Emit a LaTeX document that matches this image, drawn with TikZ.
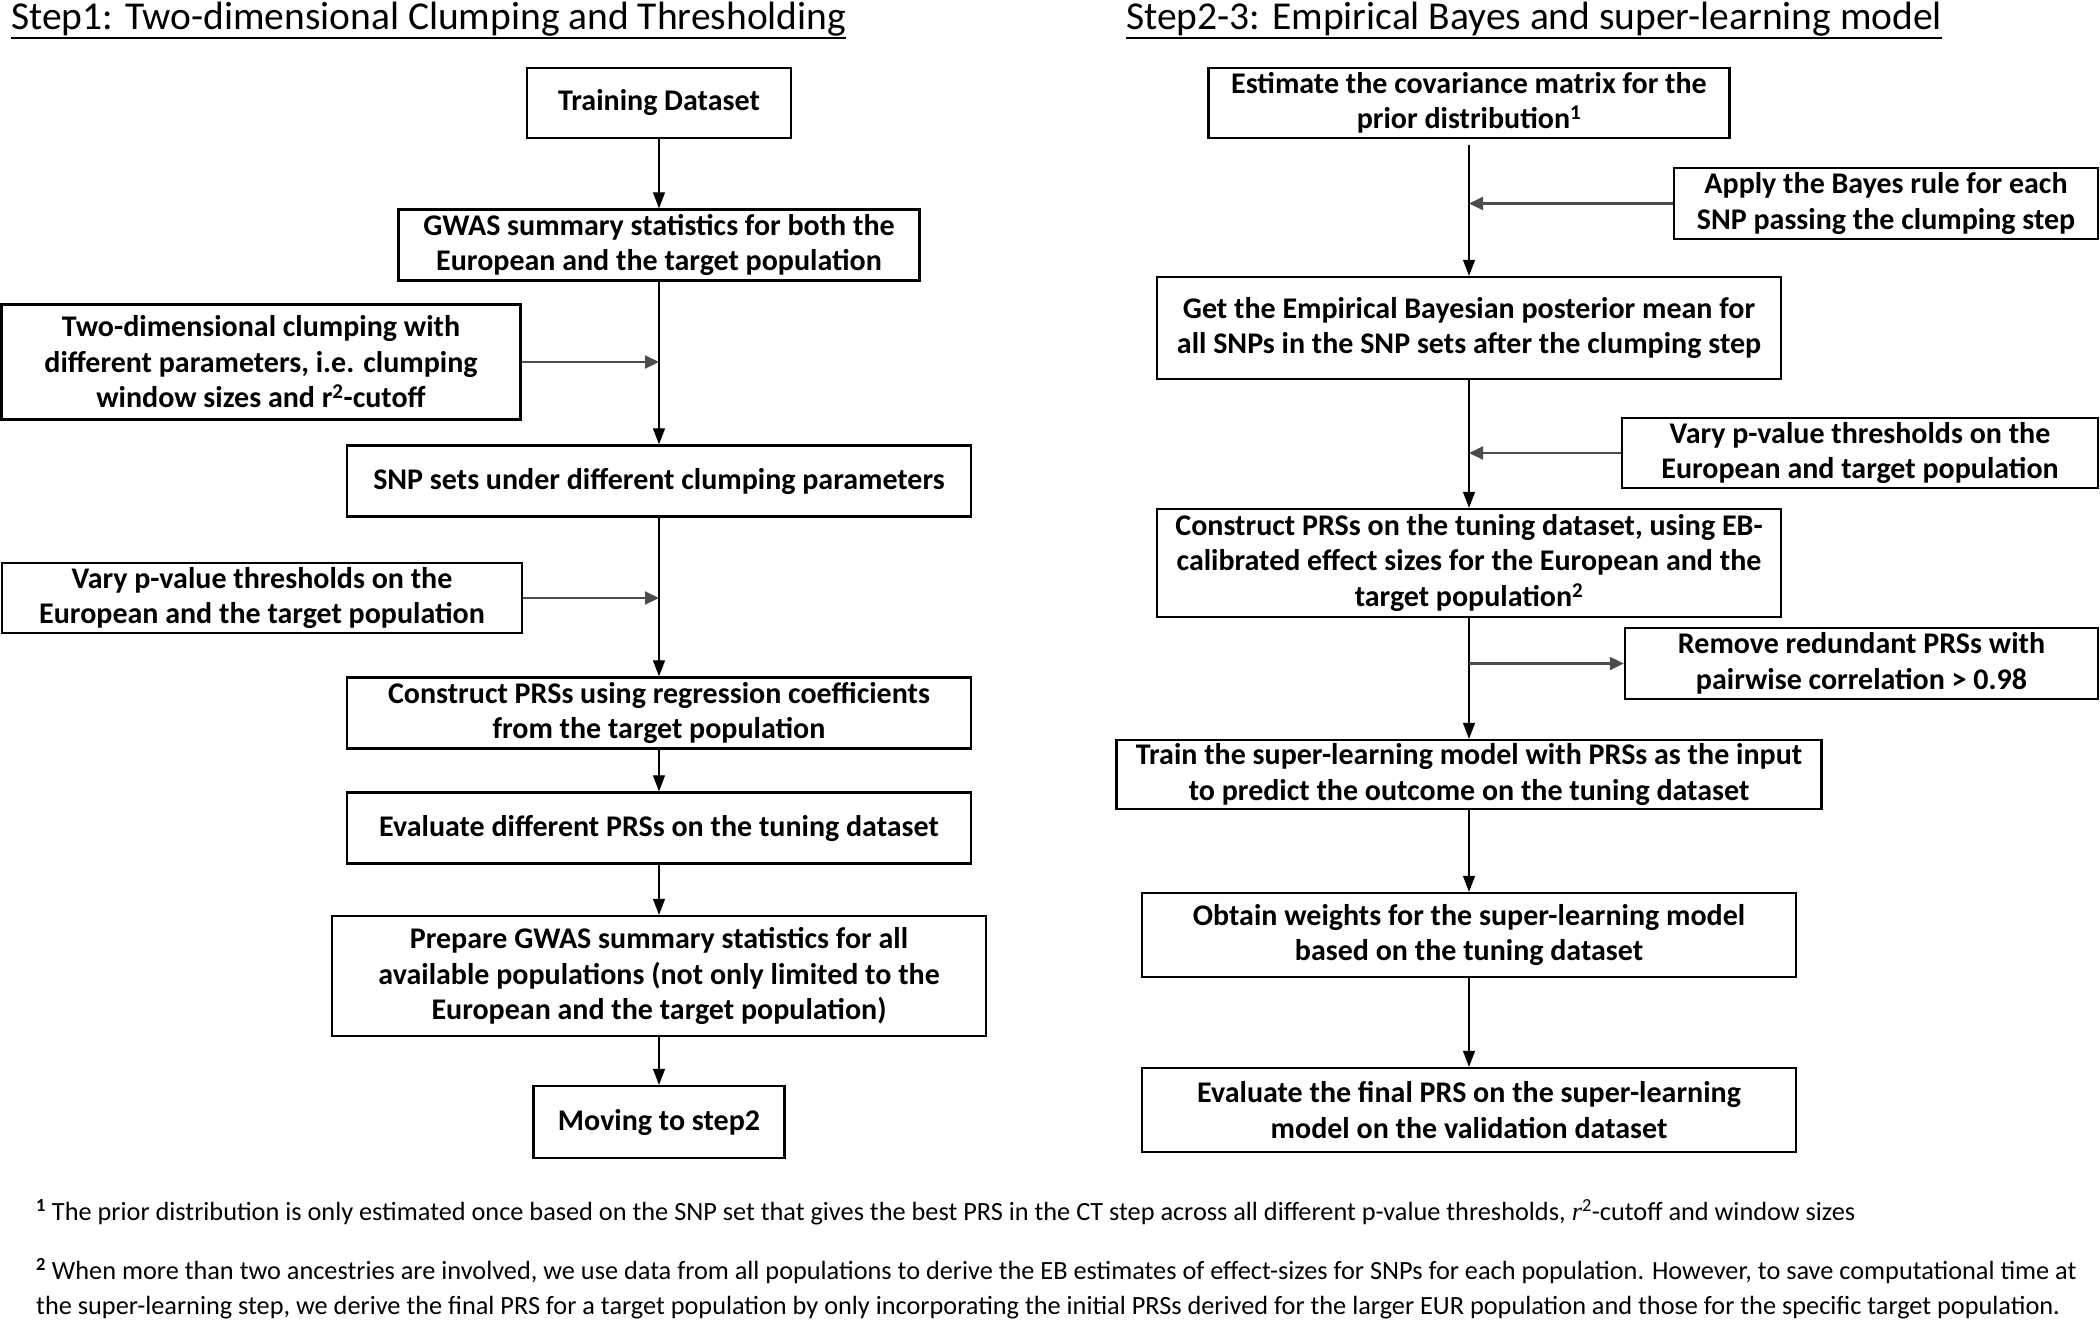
\documentclass[tikz,border=0pt]{standalone}
\usepackage{fontspec}
\setmainfont{Carlito}
\newfontfamily\fnrfont{Liberation Serif}
\usetikzlibrary{arrows.meta}
\begin{document}
\begin{tikzpicture}[x=1pt,y=-1pt,
  box/.style={draw, line width=2.4pt, align=center, inner sep=0pt,
    font=\bfseries\fontsize{30}{35.5}\selectfont},
  arr/.style={-{Triangle[length=16pt,width=12pt]}, line width=1.3pt},
  sidearr/.style={-{Triangle[length=14pt,width=13pt]}, line width=2.2pt, draw=black!70},
  ttl/.style={anchor=base west, inner sep=0pt, font=\fontsize{39.5}{44}\selectfont},
  fn/.style={anchor=west, inner sep=0pt, align=left, font=\fontsize{26.3}{35}\selectfont}]
\useasboundingbox (0,0) rectangle (2100,1320);

% titles
\node[ttl] (t1) at (11,29) {Step1: Two-dimensional Clumping and Thresholding};
\draw[line width=2pt] ([yshift=-8.5pt]t1.base west) -- ([yshift=-8.5pt]t1.base east);
\node[ttl] (t2) at (1126,29) {Step2-3: Empirical Bayes and super-learning model};
\draw[line width=2pt] ([yshift=-8.5pt]t2.base west) -- ([yshift=-8.5pt]t2.base east);

% left column
\node[box, minimum width=264pt, minimum height=70pt] (train) at (659,103) {Training Dataset};
\node[box, minimum width=521pt, minimum height=71pt] (gwas) at (659,245) {GWAS summary statistics for both the\\European and the target population};
\node[box, minimum width=519pt, minimum height=115pt] (clump) at (261,362) {Two-dimensional clumping with\\different parameters, i.e. clumping\\window sizes and r\textsuperscript{2}-cutoff};
\node[box, minimum width=624pt, minimum height=71pt] (snp) at (659,481) {SNP sets under different clumping parameters};
\node[box, minimum width=520pt, minimum height=70pt] (vary1) at (262,598) {Vary p-value thresholds on the\\European and the target population};
\node[box, minimum width=624pt, minimum height=71pt] (cons1) at (659,713) {Construct PRSs using regression coefficients\\from the target population};
\node[box, minimum width=624pt, minimum height=71pt] (eval1) at (659,828) {Evaluate different PRSs on the tuning dataset};
\node[box, minimum width=654pt, minimum height=120pt] (prep) at (659,976) {Prepare GWAS summary statistics for all\\available populations (not only limited to the\\European and the target population)};
\node[box, minimum width=251pt, minimum height=72pt] (move) at (659,1122) {Moving to step2};

\draw[arr] (train) -- (gwas);
\draw[arr] (gwas) -- (snp);
\draw[sidearr] (clump.east) -- (clump.east -| gwas.south);
\draw[arr] (snp) -- (cons1);
\draw[sidearr] (vary1.east) -- (vary1.east -| snp.south);
\draw[arr] (cons1) -- (eval1);
\draw[arr] (eval1) -- (prep);
\draw[arr] (prep) -- (move);

% right column
\node[box, minimum width=521pt, minimum height=70pt] (est) at (1469,103) {Estimate the covariance matrix for the\\prior distribution\textsuperscript{1}};
\node[box, minimum width=424pt, minimum height=71pt] (apply) at (1886,203.5) {Apply the Bayes rule for each\\SNP passing the clumping step};
\node[box, minimum width=624pt, minimum height=102pt] (get) at (1469,328) {Get the Empirical Bayesian posterior mean for\\all SNPs in the SNP sets after the clumping step};
\node[box, minimum width=476pt, minimum height=70pt] (vary2) at (1860,453) {Vary p-value thresholds on the\\European and target population};
\node[box, minimum width=624pt, minimum height=108pt] (cons2) at (1469,563) {Construct PRSs on the tuning dataset, using EB-\\calibrated effect sizes for the European and the\\target population\textsuperscript{2}};
\node[box, minimum width=473pt, minimum height=71pt] (rem) at (1861.5,663.5) {Remove redundant PRSs with\\pairwise correlation > 0.98};
\node[box, minimum width=705pt, minimum height=69pt] (trainsl) at (1469,774.5) {Train the super-learning model with PRSs as the input\\to predict the outcome on the tuning dataset};
\node[box, minimum width=654pt, minimum height=84pt] (obtain) at (1469,935) {Obtain weights for the super-learning model\\based on the tuning dataset};
\node[box, minimum width=654pt, minimum height=84pt] (evalf) at (1469,1110) {Evaluate the final PRS on the super-learning\\model on the validation dataset};

\draw[arr, shorten <=6pt] (est) -- (get);
\draw[sidearr] (apply.west) -- (apply.west -| est.south);
\draw[arr] (get) -- (cons2);
\draw[sidearr] (vary2.west) -- (vary2.west -| get.south);
\draw[arr] (cons2) -- (trainsl);
\draw[sidearr] (rem.west -| cons2.south) -- (rem.west);
\draw[arr] (trainsl) -- (obtain);
\draw[arr] (obtain) -- (evalf);

% footnotes
\node[fn] (fn1) at (36,1212) {\textbf{\textsuperscript{1}} The prior distribution is only estimated once based on the SNP set that gives the best PRS in the CT step across all different p-value thresholds, {\fnrfont\itshape r}\textsuperscript{2}-cutoff and window sizes};
\node[fn, anchor=north west] (fn2) at (36,1258) {\textbf{\textsuperscript{2}} When more than two ancestries are involved, we use data from all populations to derive the EB estimates of effect-sizes for SNPs for each population. However, to save computational time at\\the super-learning step, we derive the final PRS for a target population by only incorporating the initial PRSs derived for the larger EUR population and those for the specific target population.};
\end{tikzpicture}
\end{document}
